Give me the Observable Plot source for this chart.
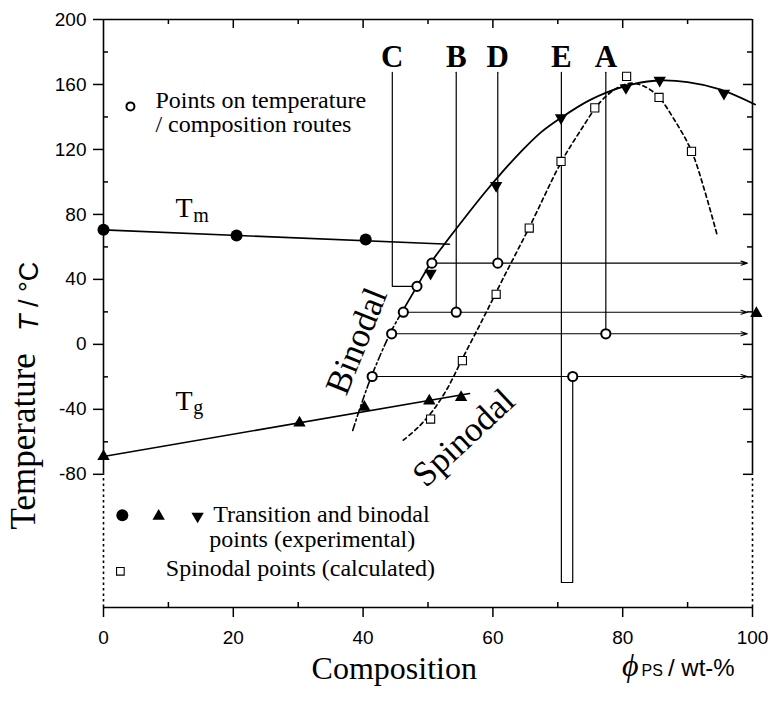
<!DOCTYPE html>
<html>
<head>
<meta charset="utf-8">
<script src="https://cdn.jsdelivr.net/npm/d3@7"></script>
<script src="https://cdn.jsdelivr.net/npm/@observablehq/plot@0.6"></script>
<style>
html,body{margin:0;padding:0;background:#fff;}
#chart svg{display:block;}
</style>
</head>
<body>
<div id="chart"></div>
<script>
// ---------- axis ticks ----------
const yTickMajor = [-80, -40, 0, 40, 80, 120, 160, 200];
const yTickMinor = [-60, -20, 20, 60, 100, 140, 180];
const rightTickMajor = [-80, -40, 0, 40, 80, 120, 160];
const rightTickMinor = [-60, -20, 20, 60, 100, 140, 180];
const xTickMajor = [0, 20, 40, 60, 80, 100];
const xTickMinor = [10, 30, 50, 70, 90];
const xTopMajor = [20, 40, 60, 80];
const xTopMinor = [10, 30, 50, 70, 90];
const yDomain = [-162, 200];
const xDomain = [0, 100];
const ySolidFrom = -80;

// ---------- melting (Tm) ----------
const tmPoints = [[0, 70.5], [20.5, 67], [40.4, 64.6]];
const tmLine = [[0, 70.5], [53.3, 61.6]];

// ---------- glass transition (Tg) ----------
const tgPoints = [[0, -69], [30.2, -48.3], [40.2, -38.6], [50.2, -34.8], [55.1, -32.6], [100.6, 19]];
const tgLine = [[0, -69], [56.4, -30.3]];

// ---------- binodal ----------
const binodalPoints = [[50.4, 43.7], [60.5, 97.8], [70.5, 139.5], [80.5, 158], [85.7, 162.5], [95.6, 154.5]];
const binodalLower = [[38.4, -53], [39.8, -36], [41.3, -19.5], [44.2, 7], [46.0, 20]];
const binodalUpper = [[46.0, 20], [48.3, 35.7], [50.5, 50.6], [52.4, 61], [54.2, 70.4], [58.6, 92.7], [61.1, 104.5],
  [64.3, 118.5], [67.4, 130.5], [70.5, 139.5], [75, 150.5], [80, 158.5], [85, 162.3], [90, 161.5], [95, 157], [100.4, 147.7]];

// ---------- spinodal ----------
const spinodalPoints = [[50.4, -46], [55.3, -10], [60.5, 30.8], [65.6, 71.6], [70.5, 112.6], [75.7, 145.6], [80.6, 165], [85.6, 152], [90.6, 118.8]];
const spinodalCurve = [[46.2, -59], [48.5, -51], [50.8, -40.5], [53, -27], [55.4, -8], [58.5, 16], [61.5, 40], [65.6, 72],
  [70.5, 112], [73.4, 131], [76.5, 149], [79, 157.5], [81.3, 160.8], [83.5, 158.5], [85.5, 152.5], [88, 138], [90.6, 119], [92.6, 95], [94.5, 68]];

// ---------- temperature / composition routes ----------
const routeLabels = ["C", "B", "D", "E", "A"];
const routeC = [[44.5, 167.5], [44.5, 35.7], [48.3, 35.7]];
const routeB = [[54.35, 167.5], [54.35, 19.8]];
const routeD = [[60.75, 167.5], [60.75, 50]];
const routeE = [[70.55, 167.5], [70.55, -146.6], [72.3, -146.6], [72.3, -19.8]];
const routeA = [[77.4, 167.5], [77.4, 6.5]];
const routePoints = [[50.6, 50], [60.75, 50], [48.3, 35.7], [46.2, 19.8], [54.35, 19.8], [44.4, 6.5], [77.4, 6.5], [41.4, -19.8], [72.3, -19.8]];
const arrowStarts = [[50.6, 50], [46.2, 19.8], [44.4, 6.5], [41.4, -19.8]];
const arrowEnd = 99.2;

// ---------- annotations (positions in data units) ----------
const serif = "'Liberation Serif', 'Times New Roman', serif";
const sans = "'Liberation Sans', Arial, sans-serif";
const curveLabels = [
  {text: "Binodal", x: 39.0, y: 2.0, angle: -68},
  {text: "Spinodal", x: 55.5, y: -57.5, angle: -43}
];
const legendRoute = {marker: [4.15, 146.5], text: "Points on temperature\n/ composition routes", x: 8.0, y: 130.8};
const legendExp = {circle: [2.9, -105.2], up: [8.5, -105.8], down: [14.5, -105.8]};
const legendExpText = [
  {text: "Transition and binodal", x: 16.9, y: -109.5},
  {text: "points (experimental)", x: 16.3, y: -124.9}
];
const legendSpin = {marker: [2.6, -139.7], text: "Spinodal points (calculated)", x: 9.6, y: -142.8};

const W = 769, H = 707, mL = 103, mR = 17, mT = 19, mB = 100;
const plotW = W - mL - mR, plotH = H - mT - mB;

const txt = (o, opts) => Plot.text([o], {x: "x", y: "y", text: "text", ...opts});

const chart = Plot.plot({
  width: W, height: H,
  marginLeft: mL, marginRight: mR, marginTop: mT, marginBottom: mB,
  x: {domain: xDomain, label: null},
  y: {domain: yDomain, label: null},
  style: {fontFamily: sans, fontSize: "19px", color: "#000", background: "#fff", overflow: "visible"},
  marks: [
    // frame
    Plot.ruleX([xDomain[0], xDomain[1]], {y1: ySolidFrom, y2: yDomain[1], strokeWidth: 1.6}),
    Plot.ruleX([xDomain[0], xDomain[1]], {y1: yDomain[0], y2: ySolidFrom, strokeWidth: 1.6, strokeDasharray: "2.5,3"}),
    Plot.ruleY([yDomain[1]], {x1: xDomain[0], x2: xDomain[1], strokeWidth: 1.6}),
    Plot.ruleY([yDomain[0]], {x1: xDomain[0], x2: xDomain[1], strokeWidth: 1.6}),
    // axes
    Plot.axisY(yTickMajor, {anchor: "left", tickSize: 10, tickPadding: 7, tickFormat: d => String(d), fontSize: 19, fontFamily: sans, strokeWidth: 1.5, label: null}),
    Plot.axisX(xTickMajor, {anchor: "bottom", tickSize: 10, tickPadding: 13, tickFormat: d => String(d), fontSize: 19, fontFamily: sans, strokeWidth: 1.5, label: null}),
    Plot.tickY(yTickMinor, {y: d => d, insetRight: plotW - 5, strokeWidth: 1.5}),
    Plot.tickY(rightTickMajor, {y: d => d, insetLeft: plotW - 9, strokeWidth: 1.5}),
    Plot.tickY(rightTickMinor, {y: d => d, insetLeft: plotW - 5, strokeWidth: 1.5}),
    Plot.tickX(xTickMinor, {x: d => d, insetTop: plotH - 5, strokeWidth: 1.5}),
    Plot.tickX(xTopMajor, {x: d => d, insetBottom: plotH - 9, strokeWidth: 1.5}),
    Plot.tickX(xTopMinor, {x: d => d, insetBottom: plotH - 5, strokeWidth: 1.5}),

    // Tm and Tg lines
    Plot.line(tmLine, {strokeWidth: 1.6}),
    Plot.line(tgLine, {strokeWidth: 1.6}),

    // binodal and spinodal curves
    Plot.line(binodalLower, {curve: "catmull-rom", strokeWidth: 1.6, strokeDasharray: "7,3,2,3"}),
    Plot.line(binodalUpper, {curve: "catmull-rom", strokeWidth: 1.8}),
    Plot.line(spinodalCurve, {curve: "catmull-rom", strokeWidth: 1.7, strokeDasharray: "4,3.5"}),

    // routes
    ...[routeC, routeB, routeD, routeE, routeA].map(r => Plot.line(r, {strokeWidth: 1.2})),
    Plot.arrow(arrowStarts, {x1: d => d[0], y1: d => d[1], x2: () => arrowEnd, y2: d => d[1], strokeWidth: 1.1, headLength: 9, headAngle: 36}),
    Plot.text(routeLabels, {
      x: (d, i) => [routeC, routeB, routeD, routeE, routeA][i][0][0],
      y: (d, i) => [routeC, routeB, routeD, routeE, routeA][i][0][1],
      text: d => d, dy: -5, lineAnchor: "bottom", fontFamily: serif, fontWeight: "bold", fontSize: 31
    }),

    // markers
    Plot.dot(tmPoints, {r: 6, fill: "black"}),
    Plot.dot(tgPoints, {symbol: "triangle", r: 4.6, fill: "black"}),
    Plot.dot(binodalPoints, {symbol: "triangle", rotate: 180, r: 4.6, fill: "black"}),
    Plot.dot(spinodalPoints, {symbol: "square", r: 4.6, fill: "white", stroke: "black", strokeWidth: 1.1}),
    Plot.dot(routePoints, {r: 4.6, fill: "white", stroke: "black", strokeWidth: 2}),

    // Tm / Tg labels (subscripts added below as tspans)
    txt({text: "Tm", x: 11.1, y: 78.2}, {textAnchor: "start", lineAnchor: "bottom", fontFamily: serif, fontSize: 28}),
    txt({text: "Tg", x: 11.1, y: -40.6}, {textAnchor: "start", lineAnchor: "bottom", fontFamily: serif, fontSize: 28}),

    // curve labels
    Plot.text(curveLabels, {x: "x", y: "y", text: "text", rotate: d => d.angle, textAnchor: "middle", lineAnchor: "middle", fontFamily: serif, fontSize: 35}),

    // legend: route points
    Plot.dot([legendRoute.marker], {r: 4, fill: "white", stroke: "black", strokeWidth: 2}),
    txt(legendRoute, {textAnchor: "start", lineAnchor: "bottom", lineHeight: 0.98, fontFamily: serif, fontSize: 24}),

    // legend: experimental / spinodal
    Plot.dot([legendExp.circle], {r: 6, fill: "black"}),
    Plot.dot([legendExp.up], {symbol: "triangle", r: 4.6, fill: "black"}),
    Plot.dot([legendExp.down], {symbol: "triangle", rotate: 180, r: 4.6, fill: "black"}),
    Plot.text(legendExpText, {x: "x", y: "y", text: "text", textAnchor: "start", lineAnchor: "bottom", fontFamily: serif, fontSize: 24}),
    Plot.dot([legendSpin.marker], {symbol: "square", r: 4.3, fill: "white", stroke: "black", strokeWidth: 1.1}),
    txt(legendSpin, {textAnchor: "start", lineAnchor: "bottom", fontFamily: serif, fontSize: 24}),

    // axis titles
    txt({text: "Temperature", x: -10.5, y: -59.7}, {rotate: -90, textAnchor: "middle", lineAnchor: "bottom", fontFamily: serif, fontSize: 35}),
    txt({text: "T / °C", x: -10.15, y: 29.5}, {rotate: -90, textAnchor: "middle", lineAnchor: "bottom", fontFamily: sans, fontSize: 27}),
    txt({text: "Composition", x: 44.8, y: -206.2}, {textAnchor: "middle", lineAnchor: "bottom", fontFamily: serif, fontSize: 32}),
    txt({text: "ϕPS / wt-%", x: 79.9, y: -204.3}, {textAnchor: "start", lineAnchor: "bottom", fontFamily: sans, fontSize: 24})
  ]
});

// rich text: subscripts / mixed styles as tspans inside one text element
function richText(svg, match, parts) {
  d3.select(svg).selectAll("text")
    .filter(function() { return this.textContent === match && !this.querySelector("tspan"); })
    .each(function() {
      const t = d3.select(this);
      t.text(null);
      for (const p of parts) {
        const s = t.append("tspan").text(p.text);
        for (const [k, v] of Object.entries(p.attr || {})) s.attr(k, v);
      }
    });
}
richText(chart, "Tm", [{text: "T"}, {text: "m", attr: {"font-size": 20, dy: 5, dx: 0.5}}]);
richText(chart, "Tg", [{text: "T"}, {text: "g", attr: {"font-size": 20, dy: 4, dx: 0.5}}]);
richText(chart, "T / °C", [{text: "T", attr: {"font-style": "italic"}}, {text: " / °C"}]);
richText(chart, "ϕPS / wt-%", [
  {text: "ϕ", attr: {"font-family": serif, "font-style": "italic", "font-size": 32}},
  {text: "PS", attr: {"font-size": 16, dx: 3}},
  {text: "/ wt-%", attr: {dx: 5}}
]);

document.getElementById("chart").appendChild(chart);
</script>
</body>
</html>
